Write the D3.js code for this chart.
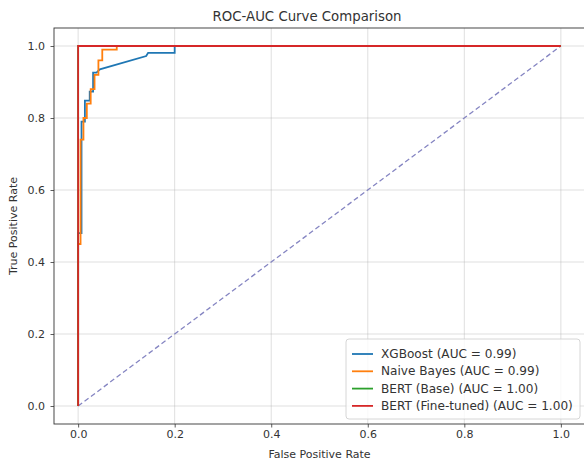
<!DOCTYPE html>
<html><head><meta charset="utf-8">
<script src="https://cdn.jsdelivr.net/npm/d3@7"></script>
<style>body{margin:0;background:#fff;} svg{display:block;font-family:"DejaVu Sans",sans-serif;}</style>
</head><body>
<svg id="c" width="584" height="464"></svg>
<script>
const xgbFpr = [0, 0, 0.007, 0.007, 0.014, 0.014, 0.024, 0.024, 0.031, 0.031, 0.038, 0.045, 0.141, 0.145, 0.2, 0.2, 1];
const xgbTpr = [0, 0.48, 0.48, 0.79, 0.79, 0.848, 0.848, 0.873, 0.873, 0.926, 0.926, 0.935, 0.972, 0.981, 0.981, 1, 1];
const nbFpr = [0, 0, 0.005, 0.005, 0.011, 0.011, 0.018, 0.018, 0.026, 0.026, 0.034, 0.034, 0.042, 0.042, 0.05, 0.05, 0.08, 0.08, 1];
const nbTpr = [0, 0.45, 0.45, 0.74, 0.74, 0.80, 0.80, 0.84, 0.84, 0.88, 0.88, 0.92, 0.92, 0.96, 0.96, 0.99, 0.99, 1, 1];
const bertBaseFpr = [0, 0, 1];
const bertBaseTpr = [0, 1, 1];
const bertFtFpr = [0, 0, 1];
const bertFtTpr = [0, 1, 1];
const seriesNames = ["XGBoost (AUC = 0.99)", "Naive Bayes (AUC = 0.99)", "BERT (Base) (AUC = 1.00)", "BERT (Fine-tuned) (AUC = 1.00)"];
const seriesColors = ["#1f77b4", "#ff7f0e", "#2ca02c", "#d62728"];
const tickVals = [0, 0.2, 0.4, 0.6, 0.8, 1.0];

const svg = d3.select("#c");
const L = 54, R = 585, T = 28, B = 424;
const x = d3.scaleLinear().domain([-0.05, 1.05]).range([L, R]);
const y = d3.scaleLinear().domain([-0.05, 1.05]).range([B, T]);

// grid
const g = svg.append("g");
g.selectAll(".gx").data(tickVals).join("line")
  .attr("x1", d => x(d)).attr("x2", d => x(d)).attr("y1", T).attr("y2", B)
  .attr("stroke", "#b0b0b0").attr("stroke-opacity", 0.5).attr("stroke-width", 0.8);
g.selectAll(".gy").data(tickVals).join("line")
  .attr("y1", d => y(d)).attr("y2", d => y(d)).attr("x1", L).attr("x2", R)
  .attr("stroke", "#b0b0b0").attr("stroke-opacity", 0.5).attr("stroke-width", 0.8);

// diagonal
svg.append("line").attr("x1", x(0)).attr("y1", y(0)).attr("x2", x(1)).attr("y2", y(1))
  .attr("stroke", "#8585c2").attr("stroke-width", 1.3).attr("stroke-dasharray", "5,3");

const series = [[xgbFpr, xgbTpr], [nbFpr, nbTpr], [bertBaseFpr, bertBaseTpr], [bertFtFpr, bertFtTpr]];
const line = d3.line().x(d => x(d[0])).y(d => y(d[1]));
series.forEach((s, i) => {
  const pts = s[0].map((f, j) => [f, s[1][j]]);
  svg.append("path").attr("d", line(pts)).attr("fill", "none")
    .attr("stroke", seriesColors[i]).attr("stroke-width", 1.8).attr("stroke-linejoin", "miter");
});

// spines
svg.append("rect").attr("x", L).attr("y", T).attr("width", R - L).attr("height", B - T)
  .attr("fill", "none").attr("stroke", "#333").attr("stroke-width", 0.9);

// axes
const xa = svg.append("g").attr("transform", `translate(0,${B})`)
  .call(d3.axisBottom(x).tickValues(tickVals).tickFormat(d3.format(".1f")).tickSize(3.5).tickPadding(3));
const ya = svg.append("g").attr("transform", `translate(${L},0)`)
  .call(d3.axisLeft(y).tickValues(tickVals).tickFormat(d3.format(".1f")).tickSize(3.5).tickPadding(5.5));
[xa, ya].forEach(a => {
  a.select(".domain").remove();
  a.selectAll("text").attr("font-size", 11).attr("fill", "#333").attr("font-family", "DejaVu Sans");
  a.selectAll("line").attr("stroke", "#333").attr("stroke-width", 0.8);
});

// titles
svg.append("text").attr("x", 307).attr("y", 21).attr("text-anchor", "middle")
  .attr("font-size", 13.3).attr("fill", "#333").text("ROC-AUC Curve Comparison");
svg.append("text").attr("x", (L + R) / 2).attr("y", 458).attr("text-anchor", "middle")
  .attr("font-size", 11).attr("fill", "#333").text("False Positive Rate");
svg.append("text").attr("transform", `translate(17,${(T + B) / 2}) rotate(-90)`).attr("text-anchor", "middle")
  .attr("font-size", 11).attr("fill", "#333").text("True Positive Rate");

// legend
const lg = svg.append("g");
lg.append("rect").attr("x", 346).attr("y", 339).attr("width", 234).attr("height", 80).attr("rx", 3)
  .attr("fill", "#fff").attr("fill-opacity", 0.8).attr("stroke", "#ccc").attr("stroke-width", 0.8);
seriesNames.forEach((n, i) => {
  const yy = 354 + i * 17.3;
  lg.append("line").attr("x1", 352).attr("x2", 373).attr("y1", yy).attr("y2", yy)
    .attr("stroke", seriesColors[i]).attr("stroke-width", 1.8);
  lg.append("text").attr("x", 381).attr("y", yy + 4).attr("font-size", 12.1).attr("fill", "#333").text(n);
});
</script>
</body></html>
